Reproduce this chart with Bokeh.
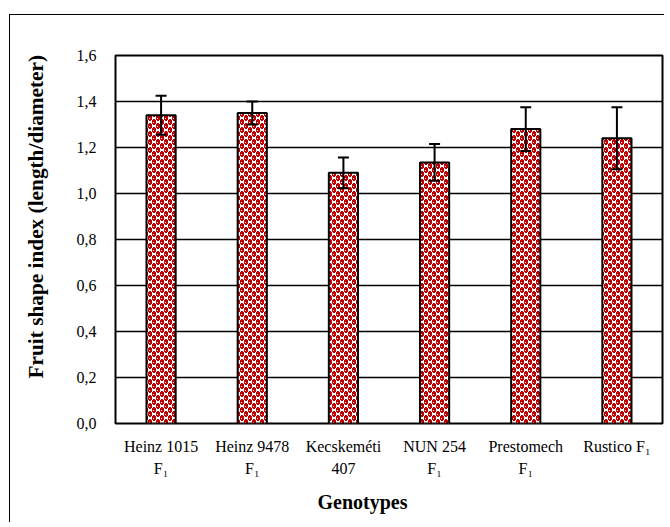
import zlib, struct, base64
from bokeh.plotting import figure
from bokeh.models import (ColumnDataSource, Whisker, TeeHead, FixedTicker, CustomJSTickFormatter,
                          Title, ImageURLTexture)
from bokeh.core.properties import value
from bokeh.embed import file_html
from bokeh.resources import INLINE

# ---- data ----
genotypes = ["Heinz 1015\nF\u2081", "Heinz 9478\nF\u2081", "Kecskeméti\n407",
             "NUN 254\nF\u2081", "Prestomech\nF\u2081", "Rustico F\u2081"]
means = [1.34, 1.35, 1.09, 1.135, 1.28, 1.24]
errors = [0.085, 0.05, 0.067, 0.08, 0.095, 0.135]
y_ticks = [0.0, 0.2, 0.4, 0.6, 0.8, 1.0, 1.2, 1.4, 1.6]

RED = (192, 0, 0)
WHITE = (255, 255, 255)


def tile_rows():
    # 8x8 checker tile: 4x4 red cells with small bulges on top and bottom
    rows = []
    for y in range(8):
        row = []
        for x in range(8):
            base_red = ((x // 4) + (y // 4)) % 2 == 0
            cx = x % 4
            cy = y % 4
            red = base_red
            if not base_red and cx in (1, 2) and cy in (0, 3):
                red = True
            if base_red and cy == 2 and cx == 1:
                red = False
            row.append(RED if red else WHITE)
        rows.append(row)
    return rows


def make_png(rows):
    h = len(rows)
    w = len(rows[0])
    raw = b"".join(b"\x00" + bytes([c for px in row for c in px]) for row in rows)

    def chunk(t, d):
        c = struct.pack(">I", len(d)) + t + d
        return c + struct.pack(">I", zlib.crc32(t + d) & 0xffffffff)

    return (b"\x89PNG\r\n\x1a\n" + chunk(b"IHDR", struct.pack(">IIBBBBB", w, h, 8, 2, 0, 0, 0))
            + chunk(b"IDAT", zlib.compress(raw)) + chunk(b"IEND", b""))


url = "data:image/png;base64," + base64.b64encode(make_png(tile_rows())).decode()

src = ColumnDataSource(dict(
    x=genotypes, top=means,
    upper=[m + e for m, e in zip(means, errors)],
    lower=[m - e for m, e in zip(means, errors)],
))

FONT = "Liberation Serif"
SHIFT = 8

p = figure(x_range=genotypes, y_range=(0, 1.6), width=664 + SHIFT, height=522,
           output_backend="svg", toolbar_location=None, title=None,
           min_border_left=115 + SHIFT, min_border_right=2, min_border_top=55, min_border_bottom=99)
p.border_fill_alpha = 0
p.background_fill_alpha = 0
p.styles = {"position": "relative", "left": f"-{SHIFT}px",
            "background": f"linear-gradient(#000, #000) {9 + SHIFT}px 14px / 1px 800px no-repeat, "
                          f"linear-gradient(#000, #000) {9 + SHIFT}px 14px / 900px 1px no-repeat, #fff"}

p.vbar(x="x", top="top", width=0.32, source=src, fill_color="#C00000",
       line_color="black", line_width=2,
       hatch_pattern=value("checker"),
       hatch_extra={"checker": ImageURLTexture(url=url, repetition="repeat")})

wh = Whisker(base="x", upper="upper", lower="lower", source=src, line_color="black", line_width=2,
             upper_head=TeeHead(size=11, line_width=2, line_color="black"),
             lower_head=TeeHead(size=11, line_width=2, line_color="black"), level="overlay")
p.add_layout(wh)

p.outline_line_color = "black"
p.outline_line_width = 2
p.xgrid.grid_line_color = None
p.ygrid.grid_line_color = "black"
p.ygrid.grid_line_width = 1.5

p.yaxis.ticker = FixedTicker(ticks=y_ticks)
p.yaxis.formatter = CustomJSTickFormatter(code="return tick.toFixed(1).replace('.', ',')")
for ax in (p.xaxis[0], p.yaxis[0]):
    ax.axis_line_color = None
    ax.major_tick_line_color = None
    ax.minor_tick_line_color = None
    ax.major_tick_out = 0
    ax.major_tick_in = 0
    ax.major_label_text_font = FONT
    ax.major_label_text_font_size = "16px"
    ax.major_label_text_color = "black"
p.yaxis.major_label_standoff = 19
p.xaxis.major_label_standoff = 14
p.xaxis.major_label_text_line_height = 1.3

p.add_layout(Title(text="Fruit shape index (length/diameter)", align="left", offset=45,
                   text_font=FONT, text_font_size="21.3px", text_font_style="bold",
                   text_color="black", standoff=52), "left")
p.add_layout(Title(text="Genotypes", align="left", offset=202,
                   text_font=FONT, text_font_size="20px", text_font_style="bold",
                   text_color="black", standoff=18), "below")

open("out.html", "w").write(file_html(p, INLINE))
